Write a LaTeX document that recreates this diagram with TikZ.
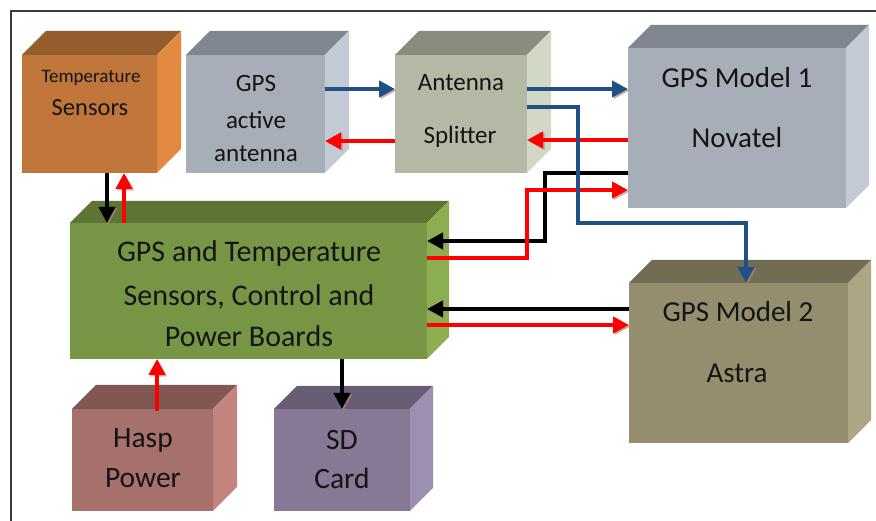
\documentclass[tikz,border=0pt]{standalone}
\usepackage{fontspec}
\setmainfont{Carlito}
\usetikzlibrary{arrows.meta}
\definecolor{tsF}{RGB}{192,118,58}\definecolor{tsT}{RGB}{149,94,46}\definecolor{tsR}{RGB}{224,137,63}
\definecolor{gaF}{RGB}{167,174,184}\definecolor{gaT}{RGB}{127,134,143}\definecolor{gaR}{RGB}{195,202,214}
\definecolor{spF}{RGB}{179,185,165}\definecolor{spT}{RGB}{137,141,126}\definecolor{spR}{RGB}{210,216,197}
\definecolor{gbF}{RGB}{119,150,69}\definecolor{gbT}{RGB}{94,116,53}\definecolor{gbR}{RGB}{139,174,81}
\definecolor{mtF}{RGB}{148,142,110}\definecolor{mtT}{RGB}{113,109,85}\definecolor{mtR}{RGB}{172,166,132}
\definecolor{hpF}{RGB}{166,112,108}\definecolor{hpT}{RGB}{128,87,83}\definecolor{hpR}{RGB}{195,131,127}
\definecolor{sdF}{RGB}{135,121,150}\definecolor{sdT}{RGB}{103,93,116}\definecolor{sdR}{RGB}{157,143,175}
\definecolor{arrblue}{RGB}{33,80,135}
\definecolor{arrred}{RGB}{255,0,0}
\definecolor{shadowc}{RGB}{190,130,125}
\definecolor{framec}{RGB}{58,58,58}
\newcommand\cubebox[9]{%
  \node[cubefront, fill=#7, minimum width=#4pt, minimum height=#5pt, anchor=north west] (#1) at (#2,#3) {};
  \fill[#8] (#1.north west) -- ++(#6,#6) -- ++(#4,0) -- (#1.north east) -- cycle;
  \fill[#9] (#1.north east) -- ++(#6,#6) -- ++(0,-#5) -- (#1.south east) -- cycle;
}
\tikzset{
  cubefront/.style={draw=none, inner sep=0pt, outer sep=0pt},
  lbl/.style={inner sep=0pt, text=black!92},
  arr/.style={line width=4.5pt, -{Triangle[length=16pt,width=16pt]},
    preaction={draw=shadowc, opacity=0.7, transform canvas={xshift=1.5pt,yshift=-1.5pt}}},
  blk/.style={arr, draw=black},
  rd/.style={arr, draw=arrred},
  bl/.style={arr, draw=arrblue},
}
\begin{document}
\begin{tikzpicture}[x=1pt,y=1pt]
\useasboundingbox (0,0) rectangle (876,521);
\fill[white] (0,0) rectangle (876,521);
\draw[framec, line width=2pt] (11,0) -- (11,510) -- (876,510);

\cubebox{ts}{22}{466}{135}{118}{24}{tsF}{tsT}{tsR}
\cubebox{ga}{186}{466}{139}{118}{24}{gaF}{gaT}{gaR}
\cubebox{sp}{395}{466}{132}{118}{24}{spF}{spT}{spR}
\cubebox{mo}{628}{473}{218}{160}{23}{gaF}{gaT}{gaR}
\cubebox{gb}{70}{298}{357}{136}{22}{gbF}{gbT}{gbR}
\cubebox{mt}{629}{238}{219}{160}{23}{mtF}{mtT}{mtR}
\cubebox{hp}{72}{112}{141}{102}{24}{hpF}{hpT}{hpR}
\cubebox{sd}{274}{112}{136}{102}{23}{sdF}{sdT}{sdR}

% labels
\node[lbl, font=\fontsize{19}{22}\selectfont] (tsl1) at (91,443) {Temperature};
\node[lbl, font=\fontsize{24.5}{28}\selectfont] (tsl2) at (90,413) {Sensors};
\node[lbl, font=\fontsize{25}{30}\selectfont] (gal1) at (256,438) {GPS};
\node[lbl, font=\fontsize{25}{30}\selectfont] (gal2) at (256,401) {active};
\node[lbl, font=\fontsize{25}{30}\selectfont] (gal3) at (256,367) {antenna};
\node[lbl, font=\fontsize{25}{30}\selectfont] (spl1) at (461,438) {Antenna};
\node[lbl, font=\fontsize{25}{30}\selectfont] (spl2) at (460,384) {Splitter};
\node[lbl, font=\fontsize{29}{34}\selectfont] (mol1) at (737,443) {GPS Model 1};
\node[lbl, font=\fontsize{29}{34}\selectfont] (mol2) at (737,383) {Novatel};
\node[lbl, font=\fontsize{30}{34}\selectfont] (gbl1) at (249,267) {GPS and Temperature};
\node[lbl, font=\fontsize{30}{34}\selectfont] (gbl2) at (249,224) {Sensors, Control and};
\node[lbl, font=\fontsize{30}{34}\selectfont] (gbl3) at (249,185) {Power Boards};
\node[lbl, font=\fontsize{29}{34}\selectfont] (mtl1) at (738,209) {GPS Model 2};
\node[lbl, font=\fontsize{29}{34}\selectfont] (mtl2) at (737,148) {Astra};
\node[lbl, font=\fontsize{29.5}{34}\selectfont] (hpl1) at (143,81) {Hasp};
\node[lbl, font=\fontsize{29.5}{34}\selectfont] (hpl2) at (143,43) {Power};
\node[lbl, font=\fontsize{29.5}{34}\selectfont] (sdl1) at (342,81) {SD};
\node[lbl, font=\fontsize{29.5}{34}\selectfont] (sdl2) at (342,43) {Card};

% connectors
\draw[blk] ([xshift=85pt]ts.south west) -- ([xshift=37pt]gb.north west);
\draw[rd] ([xshift=54pt]gb.north west) -- ([xshift=102pt]ts.south west);
\draw[bl] ([yshift=-34pt]ga.north east) -- ([yshift=-34pt]sp.north west);
\draw[rd] ([yshift=-86pt]sp.north west) -- ([yshift=-86pt]ga.north east);
\draw[bl] ([yshift=-34pt]sp.north east) -- ([yshift=-41pt]mo.north west);
\draw[rd] ([yshift=-92pt]mo.north west) -- ([yshift=-85pt]sp.north east);
\draw[blk] ([yshift=-125pt]mo.north west) -- ++(-83,0) |- ([yshift=-18pt]gb.north east);
\draw[rd] ([yshift=-35pt]gb.north east) -- ++(100,0) |- ([yshift=-142pt]mo.north west);
\draw[bl] ([yshift=-52pt]sp.north east) -- ++(51,0) -- ++(0,-116) -| ([xshift=117pt]mt.north west);
\draw[blk] ([yshift=-26pt]mt.north west) -- ([yshift=-86pt]gb.north east);
\draw[rd] ([yshift=-102pt]gb.north east) -- ([yshift=-42pt]mt.north west);
\draw[rd] ([xshift=85pt,yshift=-2pt]hp.north west) -- ([xshift=87pt]gb.south west);
\draw[blk] ([xshift=272pt]gb.south west) -- ([xshift=68pt]sd.north west);
\end{tikzpicture}
\end{document}
